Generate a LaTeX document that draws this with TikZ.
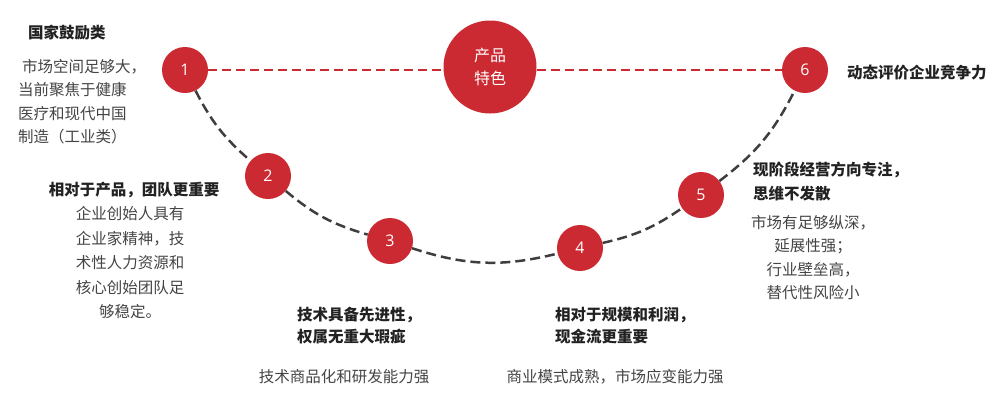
\documentclass[tikz,border=0pt]{standalone}
\usepackage{fontspec}
\usepackage{xcolor}
\usepackage{tikz}
\usetikzlibrary{positioning}
\setmainfont{Noto Sans CJK SC}
\newfontfamily\digitfont{Open Sans}
\definecolor{brandred}{HTML}{CC2A32}
\definecolor{linegray}{HTML}{3E3E3E}
\definecolor{headcol}{HTML}{222222}
\definecolor{bodycol}{HTML}{444444}

\begin{document}
\begin{tikzpicture}[
    x=1pt, y=-1pt,
    numdot/.style   ={circle, fill=brandred, draw=none, minimum size=46pt, inner sep=0pt,
                      text=white, font=\digitfont\fontsize{16}{16}\selectfont},
    coredot/.style  ={circle, fill=brandred, draw=none, minimum size=93pt, inner sep=0pt,
                      text=white, align=center, font=\fontsize{16}{23}\selectfont},
    headtxt/.style  ={inner sep=0pt, text=headcol, font=\bfseries\fontsize{15.5}{23}\selectfont},
    bodytxt/.style  ={inner sep=0pt, text=bodycol, font=\fontsize{15.5}{23.5}\selectfont},
    redlink/.style  ={draw=brandred, line width=2pt, dash pattern=on 9pt off 5pt},
    graylink/.style ={draw=linegray, line width=2.5pt, dash pattern=on 10pt off 5pt},
  ]
  \useasboundingbox (0,0) rectangle (1000,400);

  % ---- circles along the arc ----
  \node[coredot] (core) at (490,67) {产品\\特色};
  \node[numdot] (n1) at (185,70)  {1};
  \node[numdot] (n2) at (268,176) {2};
  \node[numdot] (n3) at (390,241) {3};
  \node[numdot] (n4) at (580,248) {4};
  \node[numdot] (n5) at (701,195) {5};
  \node[numdot] (n6) at (805,70)  {6};

  % ---- connectors ----
  \draw[redlink] (n1) -- (n1 -| core.west);
  \draw[redlink] (n6 -| core.east) -- (n6);
  \draw[graylink] (n1) to[bend right=11] (n2);
  \draw[graylink] (n2) to[bend right=12] (n3);
  \draw[graylink] (n3) to[bend right=16] (n4);
  \draw[graylink] (n4) to[bend right=11] (n5);
  \draw[graylink] (n5) to[bend right=13] (n6);

  % ---- step 1 ----
  \node[headtxt, anchor=west] (h1) at (28,33) {国家鼓励类};
  \node[bodytxt, anchor=west, align=left] (b1) at (18,101.5)
    {\hspace*{0.25em}市场空间足够大，\\当前聚焦于健康\\医疗和现代中国\\制造（工业类）};

  % ---- step 2 ----
  \node[headtxt] (h2) at (134,190) {相对于产品，团队更重要};
  \node[bodytxt, align=center, font=\fontsize{15.5}{24.5}\selectfont] (b2) at (130,263)
    {企业创始人具有\\企业家精神，技\\术性人力资源和\\核心创始团队足\\够稳定。};

  % ---- step 3 ----
  \node[headtxt, anchor=west, align=left, font=\bfseries\fontsize{15.5}{22}\selectfont] (h3) at (297,326)
    {技术具备先进性，\\权属无重大瑕疵};
  \node[bodytxt] (b3) at (344,377) {技术商品化和研发能力强};

  % ---- step 4 ----
  \node[headtxt, anchor=west, align=left, font=\bfseries\fontsize{15.5}{22}\selectfont] (h4) at (555,326)
    {相对于规模和利润，\\现金流更重要};
  \node[bodytxt] (b4) at (615,377) {商业模式成熟，市场应变能力强};

  % ---- step 5 ----
  \node[headtxt, anchor=west, align=left, font=\bfseries\fontsize{15.5}{24}\selectfont] (h5) at (753,181)
    {现阶段经营方向专注，\\思维不发散};
  \node[bodytxt, align=center] (b5) at (813,257.5)
    {市场有足够纵深，\\延展性强；\\行业壁垒高，\\替代性风险小};

  % ---- step 6 ----
  \node[headtxt, anchor=west] (h6) at (847,73) {动态评价企业竞争力};
\end{tikzpicture}
\end{document}
